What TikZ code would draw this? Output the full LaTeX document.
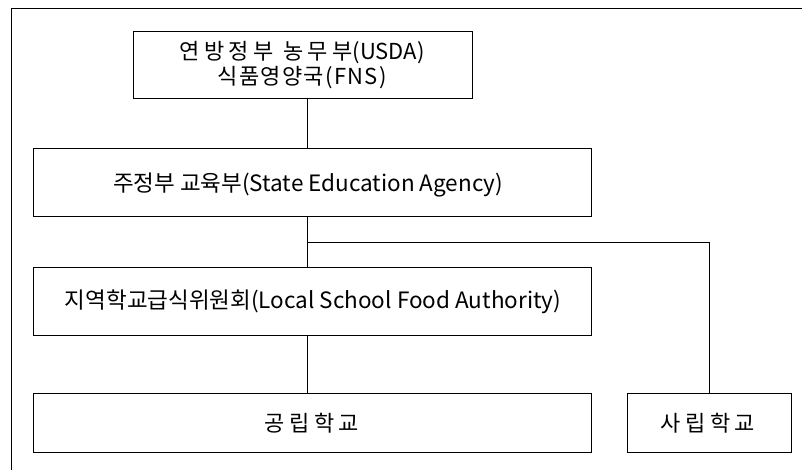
\documentclass[tikz,border=0pt]{standalone}
\usepackage{fontspec}
\setmainfont{Noto Sans CJK KR}
\newfontfamily\krA[LetterSpace=20]{Noto Sans CJK KR}
\newfontfamily\krB[LetterSpace=6]{Noto Sans CJK KR}
\newfontfamily\krwide[LetterSpace=20]{Noto Sans CJK KR}
\begin{document}
\begin{tikzpicture}[x=1pt,y=-1pt,
  orgbox/.style={draw,line width=1pt,inner sep=0pt,align=center},
  link/.style={line width=1pt}]
\useasboundingbox (0,0) rectangle (802,470);
\draw[line width=1pt] (11,470) -- (11,9) -- (802,9);
\node[orgbox,minimum width=339pt,minimum height=67pt] (usda) at (302.5,65.5) {};
\node[inner sep=0pt,font=\fontsize{22}{24}\selectfont] (usdat1) at (302,53) {{\krA 연방정부 농무부}(USDA)};
\node[inner sep=0pt,font=\krB\fontsize{22}{24}\selectfont] (usdat2) at (302,78) {식품영양국(FNS)};
\node[orgbox,minimum width=558pt,minimum height=68pt] (state) at (312,183) {};
\node[inner sep=0pt,font=\fontsize{22.5}{25}\selectfont] (statet) at (308,185) {주정부 교육부(State Education Agency)};
\node[orgbox,minimum width=558pt,minimum height=68pt] (local) at (312,301) {};
\node[inner sep=0pt,font=\fontsize{22.5}{25}\selectfont] (localt) at (313,302) {지역학교급식위원회(Local School Food Authority)};
\node[orgbox,minimum width=558pt,minimum height=59pt] (public) at (312,422.5) {};
\node[inner sep=0pt,font=\krwide\fontsize{22}{24}\selectfont] (publict) at (312,423) {공립학교};
\node[orgbox,minimum width=164pt,minimum height=59pt] (private) at (709,422.5) {};
\node[inner sep=0pt,font=\krwide\fontsize{22}{24}\selectfont] (privatet) at (708,423) {사립학교};
\coordinate (trunk) at (307,0);
\coordinate (branch) at (307,242);
\draw[link] (usda.south -| trunk) -- (state.north -| trunk);
\draw[link] (state.south -| trunk) -- (local.north -| trunk);
\draw[link] (local.south -| trunk) -- (public.north -| trunk);
\draw[link] (branch) -| (private.north);
\end{tikzpicture}
\end{document}
